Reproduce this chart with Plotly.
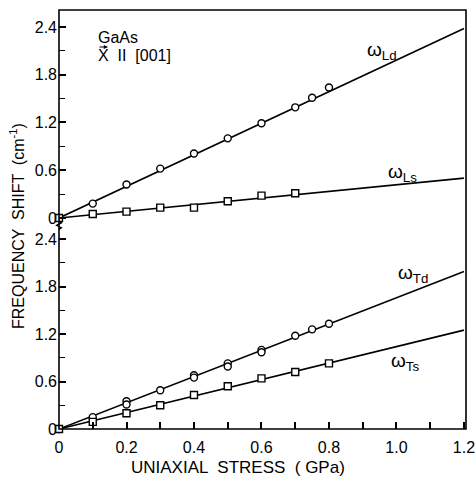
import plotly.graph_objects as go

# ---- data ----
x_Ld = [0, 0.1, 0.2, 0.3, 0.4, 0.5, 0.6, 0.7, 0.75, 0.8]
y_Ld = [0, 0.18, 0.42, 0.62, 0.81, 1.00, 1.19, 1.39, 1.51, 1.64]
x_Ls = [0, 0.1, 0.2, 0.3, 0.4, 0.5, 0.6, 0.7]
y_Ls = [0, 0.05, 0.08, 0.13, 0.13, 0.21, 0.28, 0.31]
x_Td = [0, 0.1, 0.2, 0.2, 0.3, 0.4, 0.4, 0.5, 0.5, 0.6, 0.6, 0.7, 0.75, 0.8]
y_Td = [0, 0.15, 0.35, 0.31, 0.49, 0.68, 0.65, 0.83, 0.79, 1.00, 0.97, 1.18, 1.26, 1.33]
x_Ts = [0, 0.1, 0.2, 0.3, 0.4, 0.5, 0.6, 0.7, 0.8]
y_Ts = [0, 0.09, 0.20, 0.30, 0.43, 0.54, 0.64, 0.72, 0.83]

fit_x = [0, 1.2]
fit_Ld = [0, 2.38]
fit_Ls = [0, 0.50]
fit_Td = [0, 1.99]
fit_Ts = [0, 1.25]

x_tickvals = [0, 0.2, 0.4, 0.6, 0.8, 1.0, 1.2]
x_ticktext = ["0", "0.2", "0.4", "0.6", "0.8", "1.0", "1.2"]
y_tickvals = [0, 0.6, 1.2, 1.8, 2.4]
y_ticktext = ["0", "0.6", "1.2", "1.8", "2.4"]

FONT = "Liberation Sans"
fig = go.Figure()

def add_series(xs, ys, fx, fy, symbol, yaxis):
    fig.add_trace(go.Scatter(x=fx, y=fy, mode="lines", yaxis=yaxis,
                             line=dict(color="black", width=1.6),
                             showlegend=False, hoverinfo="skip"))
    fig.add_trace(go.Scatter(x=xs, y=ys, mode="markers", yaxis=yaxis,
                             marker=dict(symbol=symbol, size=7, color="white",
                                         line=dict(color="black", width=1.4)),
                             cliponaxis=False, showlegend=False))

add_series(x_Ld, y_Ld, fit_x, fit_Ld, "circle", "y2")
add_series(x_Ls, y_Ls, fit_x, fit_Ls, "square", "y2")
add_series(x_Td, y_Td, fit_x, fit_Td, "circle", "y")
add_series(x_Ts, y_Ts, fit_x, fit_Ts, "square", "y")

split = 0.487
tickfont = dict(family=FONT, size=16, color="black")
common_y = dict(tickmode="array", tickvals=y_tickvals, ticktext=y_ticktext,
                ticks="inside", ticklen=7, tickwidth=1.5, tickcolor="black",
                minor=dict(dtick=0.3, ticks="inside", ticklen=6, tickwidth=1.3, tickcolor="black"),
                showgrid=False, zeroline=False, showline=False, tickfont=tickfont,
                anchor="x", ticklabelstandoff=1, automargin=False)

fig.update_layout(
    width=475, height=479,
    margin=dict(l=59, r=9, t=10, b=50),
    paper_bgcolor="white", plot_bgcolor="white",
    xaxis=dict(range=[0, 1.206], tickmode="array", tickvals=x_tickvals, ticktext=x_ticktext,
               ticks="inside", ticklen=7, tickwidth=1.5, tickcolor="black",
               minor=dict(dtick=0.1, ticks="inside", ticklen=7, tickwidth=1.5, tickcolor="black"),
               showgrid=False, zeroline=False, showline=False, tickfont=tickfont,
               anchor="y", ticklabelstandoff=7, automargin=False,
               ticklabeloverflow="allow"),
    yaxis=dict(domain=[0, split], range=[0, 2.58], **common_y),
    yaxis2=dict(domain=[split, 1], range=[-0.088, 2.613], **common_y),
)

# frame
fig.add_shape(type="rect", xref="paper", yref="paper", x0=0, x1=1, y0=0, y1=1,
              line=dict(color="black", width=1.6), fillcolor="rgba(0,0,0,0)")
# axis break mark
fig.add_shape(type="path", xref="paper", yref="paper",
              path="M 0,0.497 L 0.006,0.492 L -0.006,0.486 L 0.006,0.480 L 0,0.476",
              line=dict(color="black", width=1.3))

def ann(text, x, y, size=16, xanchor="center", yanchor="middle", textangle=0):
    fig.add_annotation(text=text, x=x, y=y, xref="paper", yref="paper",
                       showarrow=False, xanchor=xanchor, yanchor=yanchor,
                       textangle=textangle,
                       font=dict(family=FONT, size=size, color="black"))

W, H = 407, 419  # plot area px
def px(xp, yp):
    return (xp - 59) / W, (429 - yp) / H

ann("ω<sub>Ld</sub>", *px(382, 51), size=19)
ann("ω<sub>Ls</sub>", *px(402, 173), size=19)
ann("ω<sub>Td</sub>", *px(413, 274), size=19)
ann("ω<sub>Ts</sub>", *px(405, 362), size=19)
ann("GaAs", *px(96, 37), size=16, xanchor="left")
ann("X  II  [001]", *px(96, 55), size=16, xanchor="left")
# vector arrow above X
hx, hy = px(108, 47)
fig.add_annotation(x=hx, y=hy, xref="paper", yref="paper", text="",
                   showarrow=True, ax=-10, ay=0, arrowhead=2, arrowsize=0.7,
                   arrowwidth=1.2, arrowcolor="black")
ann("UNIAXIAL  STRESS  ( GPa)", *px(238, 467.5), size=17)
ann("FREQUENCY  SHIFT  (cm<sup>-1</sup>)", *px(17, 226), size=16, textangle=-90)

fig.write_html("out.html")
